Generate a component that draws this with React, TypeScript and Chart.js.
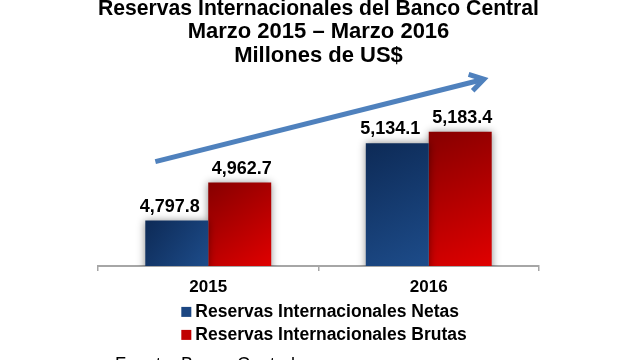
import React, { useEffect, useRef } from "react";
import { Chart, registerables } from "chart.js";

Chart.register(...registerables);

const categories = ["2015", "2016"];
const seriesNames = ["Reservas Internacionales Netas", "Reservas Internacionales Brutas"];
const netas = [4797.8, 5134.1];
const brutas = [4962.7, 5183.4];
const titleLines = ["Reservas Internacionales del Banco Central", "Marzo 2015 – Marzo 2016", "Millones de US$"];
const sourceText = "Fuente: Banco Central";
// trend arrow: [category position, value]
const arrowFrom = [-0.24, 5054];
const arrowTo = [1.25, 5412];

const FONT = "'Liberation Sans', Arial, sans-serif";

const gradStops = [
  ["#0d2a56", "#1d4c8a"],
  ["#860000", "#e00000"],
];
const solid = ["#1b4682", "#c00000"];

function barFill(ctx: any) {
  const chart = ctx.chart;
  const area = chart.chartArea;
  const xs = chart.scales.x;
  const ys = chart.scales.y;
  const ds = ctx.datasetIndex;
  if (!area || !xs || !ys || ctx.type !== "data") return solid[ds];
  const cw = (xs.right - xs.left) / categories.length;
  const half = cw * 0.2855;
  const cx = xs.getPixelForValue(ctx.dataIndex);
  const left = ds === 0 ? cx - half : cx;
  const right = ds === 0 ? cx : cx + half;
  const v = ctx.raw as number;
  const top = ys.getPixelForValue(v);
  const bottom = area.bottom;
  if (!isFinite(top) || !isFinite(left)) return solid[ds];
  const g = chart.ctx.createLinearGradient(left, top, right, bottom);
  g.addColorStop(0, gradStops[ds][0]);
  g.addColorStop(1, gradStops[ds][1]);
  return g;
}

const shadowPlugin = {
  id: "barShadow",
  beforeDatasetsDraw(chart: any) {
    const c = chart.ctx;
    c.save();
    c.shadowColor = "rgba(0,0,0,0.45)";
    c.shadowBlur = 8;
    c.shadowOffsetX = 0;
    c.shadowOffsetY = 0;
  },
  afterDatasetsDraw(chart: any) {
    chart.ctx.restore();
  },
};

const labelOffsets = [-7, 2];

const labelPlugin = {
  id: "valueLabels",
  afterDatasetsDraw(chart: any) {
    const c = chart.ctx;
    c.save();
    c.font = `bold 18px ${FONT}`;
    c.fillStyle = "#000";
    c.textAlign = "center";
    c.textBaseline = "alphabetic";
    chart.data.datasets.forEach((ds: any, di: number) => {
      const meta = chart.getDatasetMeta(di);
      meta.data.forEach((el: any, i: number) => {
        const v = ds.data[i] as number;
        const txt = v.toLocaleString("en-US", { minimumFractionDigits: 1, maximumFractionDigits: 1 });
        c.fillText(txt, el.x + labelOffsets[di], el.y - 9);
      });
    });
    c.restore();
  },
};

const arrowPlugin = {
  id: "trendArrow",
  afterDraw(chart: any) {
    const xs = chart.scales.x;
    const ys = chart.scales.y;
    const x1 = xs.getPixelForValue(arrowFrom[0]);
    const y1 = ys.getPixelForValue(arrowFrom[1]);
    const x2 = xs.getPixelForValue(arrowTo[0]);
    const y2 = ys.getPixelForValue(arrowTo[1]);
    const c = chart.ctx;
    const ang = Math.atan2(y2 - y1, x2 - x1);
    const head = 16;
    c.save();
    c.strokeStyle = "#4f81bd";
    c.lineWidth = 5;
    c.lineCap = "butt";
    c.lineJoin = "miter";
    c.beginPath();
    c.moveTo(x1, y1);
    c.lineTo(x2 - Math.cos(ang) * 3, y2 - Math.sin(ang) * 3);
    c.stroke();
    c.beginPath();
    c.moveTo(x2 - head * Math.cos(ang - 0.55), y2 - head * Math.sin(ang - 0.55));
    c.lineTo(x2, y2);
    c.lineTo(x2 - head * Math.cos(ang + 0.55), y2 - head * Math.sin(ang + 0.55));
    c.stroke();
    c.restore();
  },
};

const legendPlugin = {
  id: "stackedLegend",
  afterDraw(chart: any) {
    const c = chart.ctx;
    const xs = chart.scales.x;
    c.save();
    c.font = `bold 17.5px ${FONT}`;
    let maxW = 0;
    seriesNames.forEach((s) => {
      maxW = Math.max(maxW, c.measureText(s).width);
    });
    const box = 10;
    const gap = 4;
    const blockW = box + gap + maxW;
    const left = (chart.width - blockW) / 2 + 4;
    const rowsY = [xs.bottom + 8.5, xs.bottom + 31.5];
    seriesNames.forEach((s, i) => {
      const y = rowsY[i];
      c.fillStyle = solid[i];
      c.fillRect(left, y - box / 2, box, box);
      c.fillStyle = "#000";
      c.textAlign = "left";
      c.textBaseline = "middle";
      c.fillText(s, left + box + gap, y);
    });
    c.font = `18px ${FONT}`;
    c.textBaseline = "alphabetic";
    c.fillText(sourceText, 115, 370);
    c.restore();
  },
};

export default function App() {
  const ref = useRef<HTMLCanvasElement | null>(null);
  useEffect(() => {
    if (!ref.current) return;
    const chart = new Chart(ref.current, {
      type: "bar",
      data: {
        labels: categories,
        datasets: [
          { label: seriesNames[0], data: netas, backgroundColor: barFill as any, borderWidth: 0 },
          { label: seriesNames[1], data: brutas, backgroundColor: barFill as any, borderWidth: 0 },
        ],
      },
      options: {
        animation: false,
        responsive: false,
        events: [],
        layout: { padding: { left: 98, right: 101, top: 0, bottom: 56.6 } },
        categoryPercentage: 0.571,
        barPercentage: 1,
        plugins: {
          legend: { display: false },
          tooltip: { enabled: false },
          title: {
            display: true,
            text: titleLines,
            color: "#000",
            font: { family: FONT, size: 22, weight: "bold", lineHeight: 23.5 / 22 },
            padding: { top: -3, bottom: 37.5 },
          },
        },
        scales: {
          x: {
            grid: {
              display: true,
              drawOnChartArea: false,
              drawTicks: true,
              tickLength: 5,
              color: "#a6a6a6",
              lineWidth: 1.5,
            },
            border: { display: true, color: "#a6a6a6", width: 2 },
            ticks: {
              color: "#000",
              padding: 6,
              font: { family: FONT, size: 17, weight: "bold" },
            },
          },
          y: {
            display: false,
            min: 4600,
            max: 5300,
          },
        },
      } as any,
      plugins: [shadowPlugin, labelPlugin, arrowPlugin, legendPlugin],
    });
    return () => chart.destroy();
  }, []);
  return (
    <div style={{ position: "absolute", left: 0, top: 0, width: 640, height: 360, background: "#fff" }}>
      <canvas ref={ref} width={640} height={360} style={{ display: "block" }} />
    </div>
  );
}
